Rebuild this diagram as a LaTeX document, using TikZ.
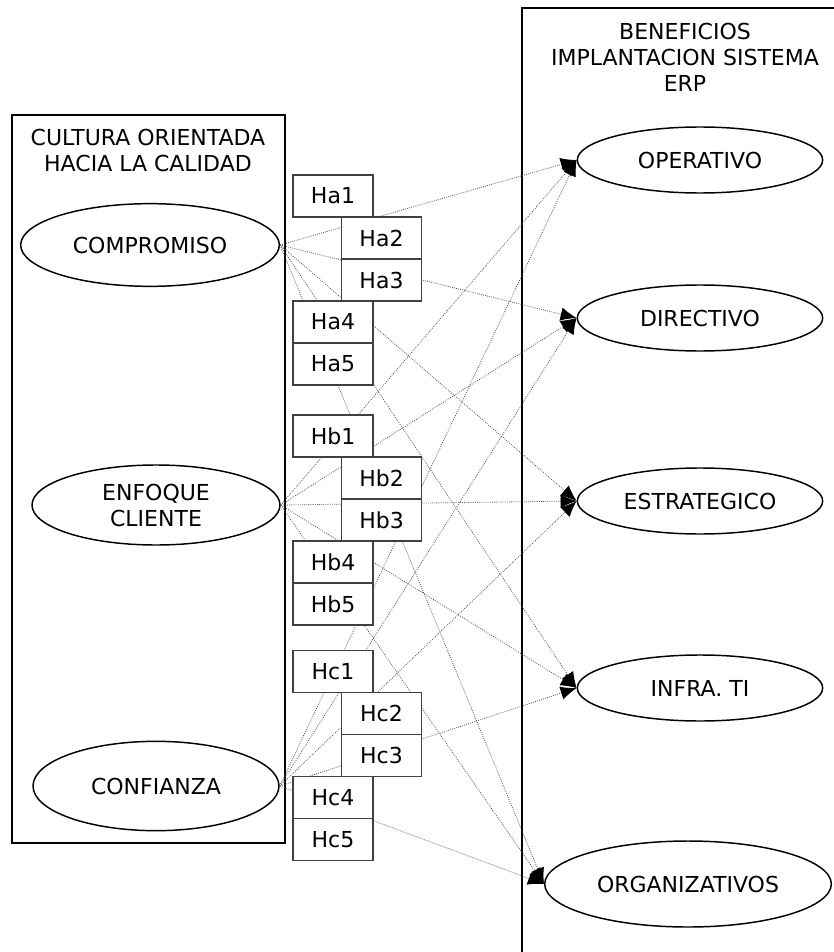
\documentclass[tikz,border=0pt]{standalone}
\usepackage{fontspec}
\setmainfont{DejaVu Sans}
\usetikzlibrary{shapes.geometric, arrows.meta}

\tikzset{
  marco/.style={line width=1.1pt},
  titulo/.style={align=center, inner sep=0pt},
  factor/.style={draw, ellipse, line width=1.1pt, fill=white, inner sep=0pt, align=center},
  hipbox/.style={draw=black!75, fill=white, line width=0.8pt, minimum width=60pt, minimum height=31.5pt, inner sep=0pt},
  enlace/.style={densely dotted, black!70, line width=0.6pt, -{Latex[black, length=12pt, width=10pt]}}
}

\begin{document}
\begin{tikzpicture}[x=0.75pt,y=-0.75pt,font=\fontsize{16.5}{19.5}\selectfont]
\useasboundingbox (0,0) rectangle (834,952);
\draw[marco] (12,115) rectangle (285,843);
\draw[marco] (522,8) rectangle (850,975);
\node[titulo] (tcultura) at (148,150) {CULTURA ORIENTADA\\HACIA LA CALIDAD};
\node[titulo] (tbenef) at (685,57) {BENEFICIOS\\IMPLANTACION SISTEMA\\ERP};
% constructos
\node[factor, minimum width=194pt, minimum height=62pt] (comp) at (150,245) {COMPROMISO};
\node[factor, minimum width=186pt, minimum height=60pt] (enfo) at (156,505) {ENFOQUE\\CLIENTE};
\node[factor, minimum width=184.5pt, minimum height=67pt] (conf) at (156,786) {CONFIANZA};
% beneficios
\node[factor, minimum width=184pt, minimum height=49.5pt] (oper) at (700,160) {OPERATIVO};
\node[factor, minimum width=184pt, minimum height=49.5pt] (dire) at (700,318) {DIRECTIVO};
\node[factor, minimum width=184pt, minimum height=49.5pt] (estr) at (700,501) {ESTRATEGICO};
\node[factor, minimum width=184pt, minimum height=49.5pt] (infr) at (700,688) {INFRA. TI};
\node[factor, minimum width=215pt, minimum height=64.5pt] (orga) at (688,884) {ORGANIZATIVOS};
% hipotesis
\draw[enlace] (comp.east) -- (oper.west);
\draw[enlace] (comp.east) -- (dire.west);
\draw[enlace] (comp.east) -- (estr.west);
\draw[enlace] (comp.east) -- (infr.west);
\draw[enlace] (comp.east) -- (orga.west);
\draw[enlace] (enfo.east) -- (oper.west);
\draw[enlace] (enfo.east) -- (dire.west);
\draw[enlace] (enfo.east) -- (estr.west);
\draw[enlace] (enfo.east) -- (infr.west);
\draw[enlace] (enfo.east) -- (orga.west);
\draw[enlace] (conf.east) -- (oper.west);
\draw[enlace] (conf.east) -- (dire.west);
\draw[enlace] (conf.east) -- (estr.west);
\draw[enlace] (conf.east) -- (infr.west);
\draw[enlace] (conf.east) -- (orga.west);
% etiquetas
\node[hipbox] (ha1) at (333,196) {Ha1};
\node[hipbox] (ha2) at (381.5,238) {Ha2};
\node[hipbox] (ha3) at (381.5,280) {Ha3};
\node[hipbox] (ha4) at (333,322) {Ha4};
\node[hipbox] (ha5) at (333,364) {Ha5};
\node[hipbox] (hb1) at (333,436) {Hb1};
\node[hipbox] (hb2) at (381.5,478) {Hb2};
\node[hipbox] (hb3) at (381.5,520) {Hb3};
\node[hipbox] (hb4) at (333,562) {Hb4};
\node[hipbox] (hb5) at (333,604) {Hb5};
\node[hipbox] (hc1) at (333,671.5) {Hc1};
\node[hipbox] (hc2) at (381.5,713.5) {Hc2};
\node[hipbox] (hc3) at (381.5,755.5) {Hc3};
\node[hipbox] (hc4) at (333,797.5) {Hc4};
\node[hipbox] (hc5) at (333,839.5) {Hc5};
\end{tikzpicture}
\end{document}
